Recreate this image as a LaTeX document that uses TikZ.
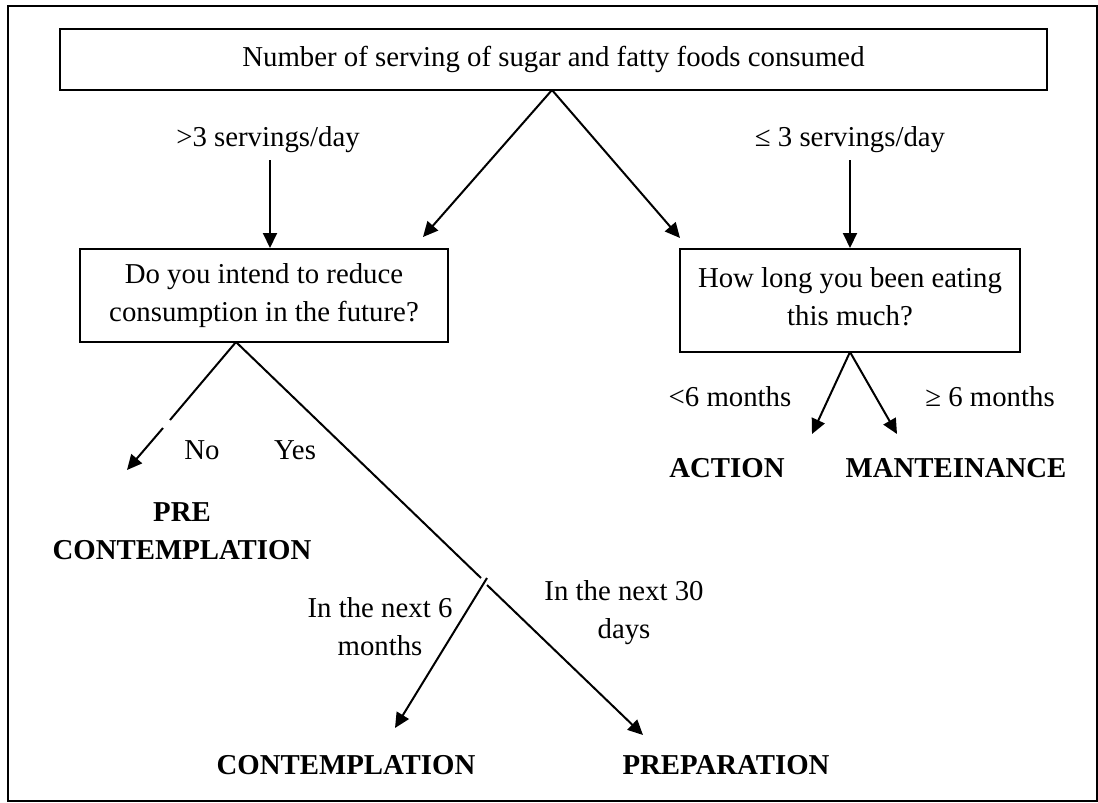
\documentclass[tikz,border=0pt]{standalone}
\usepackage{fontspec}
\setmainfont{Liberation Serif}
\usetikzlibrary{arrows.meta}
\begin{document}
\begin{tikzpicture}[
  x=0.5pt, y=-0.5pt,
  every node/.style={font=\fontsize{14.4}{19}\selectfont, inner sep=0pt},
  box/.style={draw, line width=1pt},
  stage/.style={font=\fontsize{14.4}{19}\selectfont\bfseries, align=center},
  lbl/.style={align=center},
  link/.style={line width=1pt},
  arr/.style={line width=1pt, -{Triangle[length=7.5pt,width=7pt]}}
]
\useasboundingbox (0,0) rectangle (1098,803);
% outer frame
\draw[line width=0.75pt] (8,6) rectangle (1097,801);

% question boxes
\node[box, minimum width=493.5pt, minimum height=30.5pt] (top) at (553.5,59.5) {};
\node[lbl] (topt) at (top.center) {Number of serving of sugar and fatty foods consumed};
\node[box, minimum width=184pt, minimum height=46.5pt] (lbox) at (264,295.5) {};
\node[lbl] (lboxt) at (264,296) {Do you intend to reduce\\consumption in the future?};
\node[box, minimum width=170pt, minimum height=51.5pt] (rbox) at (850,300.5) {};
\node[lbl] (rboxt) at (850,296.5) {How long you been eating\\this much?};

% branch labels
\node[lbl] (gt) at (268,140) {>3 servings/day};
\node[lbl] (le) at (850,140) {≤ 3 servings/day};
\node[lbl] (lt6) at (730,397) {<6 months};
\node[lbl] (ge6) at (990,397) {≥ 6 months};
\node[lbl] (no) at (202,450) {No};
\node[lbl] (yes) at (295,450) {Yes};
\node[lbl] (six) at (380,627) {In the next 6\\months};
\node[lbl] (thirty) at (624,613) {In the next 30\\days};

% stages
\node[stage] (action) at (727,468) {ACTION};
\node[stage] (maint) at (956,468) {MANTEINANCE};
\node[stage] (precon) at (182,531) {PRE\\CONTEMPLATION};
\node[stage] (contem) at (346,765) {CONTEMPLATION};
\node[stage] (prep) at (726,765) {PREPARATION};

% connectors from the top box
\coordinate (apexT) at (552,90);
\coordinate (tipL) at (423,237);
\coordinate (tipR) at (680,238);
\draw[arr] (apexT) -- (tipL);
\draw[arr] (apexT) -- (tipR);

\coordinate (gtA) at (270,160);
\coordinate (leA) at (850,160);
\draw[arr] (gtA) -- (gtA |- lbox.north);
\draw[arr] (leA) -- (leA |- rbox.north);

% connectors from the right box
\coordinate (rapex) at (850,352);
\coordinate (tipAct) at (812,434);
\coordinate (tipMnt) at (897,434);
\draw[arr] (rapex) -- (tipAct);
\draw[arr] (rapex) -- (tipMnt);

% connectors from the left box
\coordinate (lapex) at (236,342);
\coordinate (noA) at (170,420);
\coordinate (noB) at (163,428);
\coordinate (tipNo) at (127,470);
\draw[link] (lapex) -- (noA);
\draw[arr] (noB) -- (tipNo);

\coordinate (yesEnd) at (481,578);
\coordinate (split) at (487,578);
\coordinate (prepA) at (487,585);
\coordinate (tipCon) at (395,728);
\coordinate (tipPrep) at (643,735);
\draw[link] (lapex) -- (yesEnd);
\draw[arr] (split) -- (tipCon);
\draw[arr] (prepA) -- (tipPrep);
\end{tikzpicture}
\end{document}
